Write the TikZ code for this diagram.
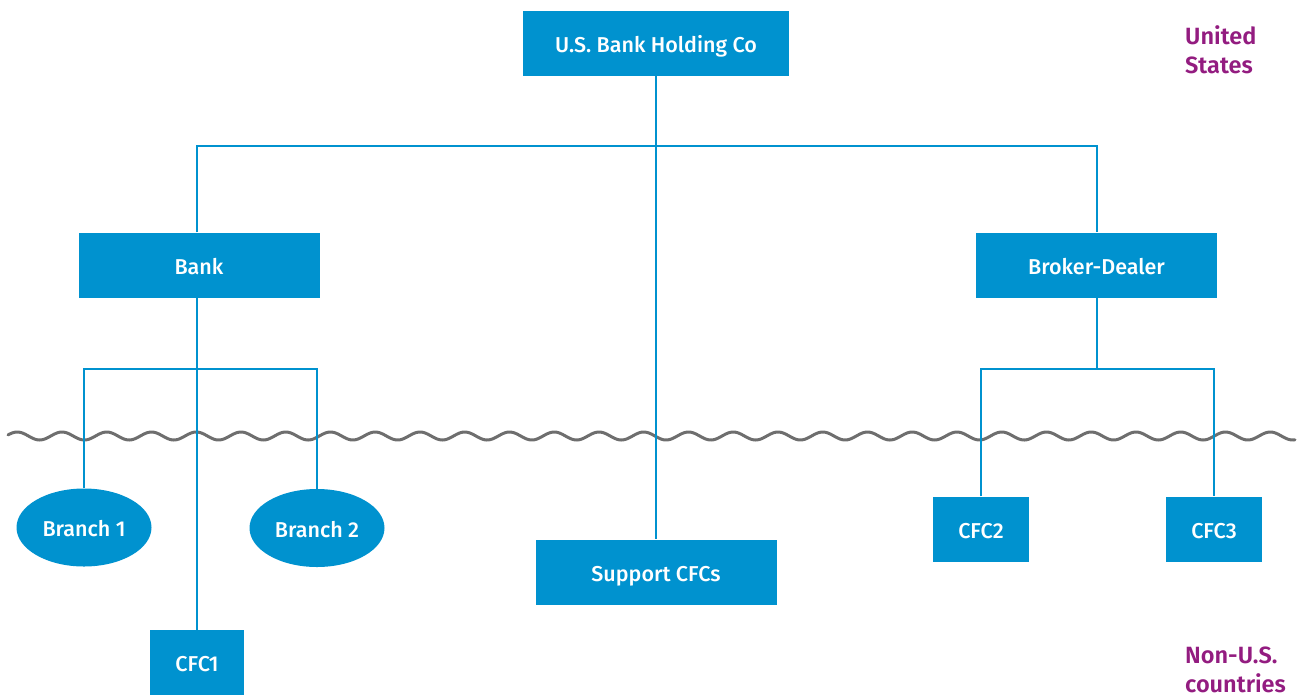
\documentclass[tikz,border=0pt]{standalone}
\usepackage{fontspec}
\setmainfont{Fira Sans}
\newfontfamily\boxfont{Fira Sans}[UprightFont={* Medium}]
\newfontfamily\tagfont{Fira Sans}[UprightFont={* SemiBold}]
\usetikzlibrary{shapes.geometric}
\definecolor{entblue}{HTML}{0092CF}
\definecolor{regionpurple}{HTML}{931C80}
\definecolor{wavegrey}{HTML}{6E6E6E}
\tikzset{
  boxtext/.style={text=white, inner sep=0pt, text height=18pt, text depth=0pt,
    font=\boxfont\fontsize{21.5}{24}\selectfont},
  entity/.style={rectangle, fill=entblue, boxtext},
  branchunit/.style={ellipse, fill=entblue, boxtext,
    minimum width=135, minimum height=78},
  link/.style={draw=entblue, line width=2.8pt},
  region/.style={text=regionpurple, align=left, anchor=west, inner sep=0pt,
    font=\tagfont\fontsize{23.5}{29}\selectfont},
}
\begin{document}
\begin{tikzpicture}[x=1pt, y=-1pt]
\useasboundingbox (0,0) rectangle (1298,697);

% border between the U.S. and other countries (wavelength 44.75)
\draw[wavegrey, line width=3pt, line cap=round]
  plot[domain=8:1295, samples=700, smooth]
  (\x, {436 - 4*cos(8.04469*(\x-62))});

% entities
\node[entity, minimum width=266, minimum height=65] (hold) at (656,43.5) {U.S. Bank Holding Co};
\node[entity, minimum width=241, minimum height=65] (bank) at (199,265) {Bank};
\node[entity, minimum width=241, minimum height=65] (broker) at (1096.5,265) {Broker-Dealer};
\node[branchunit] (br1) at (84,527.5) {Branch 1};
\node[branchunit] (br2) at (317,528) {Branch 2};
\node[entity, minimum width=241, minimum height=65] (support) at (656,572) {Support CFCs};
\node[entity, minimum width=94, minimum height=65] (cfc1) at (197,662.5) {CFC1};
\node[entity, minimum width=96, minimum height=65] (cfc2) at (981,529) {CFC2};
\node[entity, minimum width=96, minimum height=65] (cfc3) at (1214,529) {CFC3};

% junction points
\coordinate (bus) at (656,146);
\coordinate (bj) at (197,369);
\coordinate (cj) at (1097,369);

% ownership lines
\draw[link] (hold.south) -- (support.north);
\draw[link] (bank.north -| bj) |- (bus) -| (broker.north -| cj);
\draw[link] (bank.south -| bj) -- (cfc1.north -| bj);
\draw[link] (br1.north) |- (bj) -| (br2.north);
\draw[link] (broker.south -| cj) -- (cj);
\draw[link] (cfc2.north) |- (cj) -| (cfc3.north);

% region labels
\node[region] (us) at (1185,49.5) {United\\States};
\node[region] (nonus) at (1185,670) {Non-U.S.\\countries};
\end{tikzpicture}
\end{document}
